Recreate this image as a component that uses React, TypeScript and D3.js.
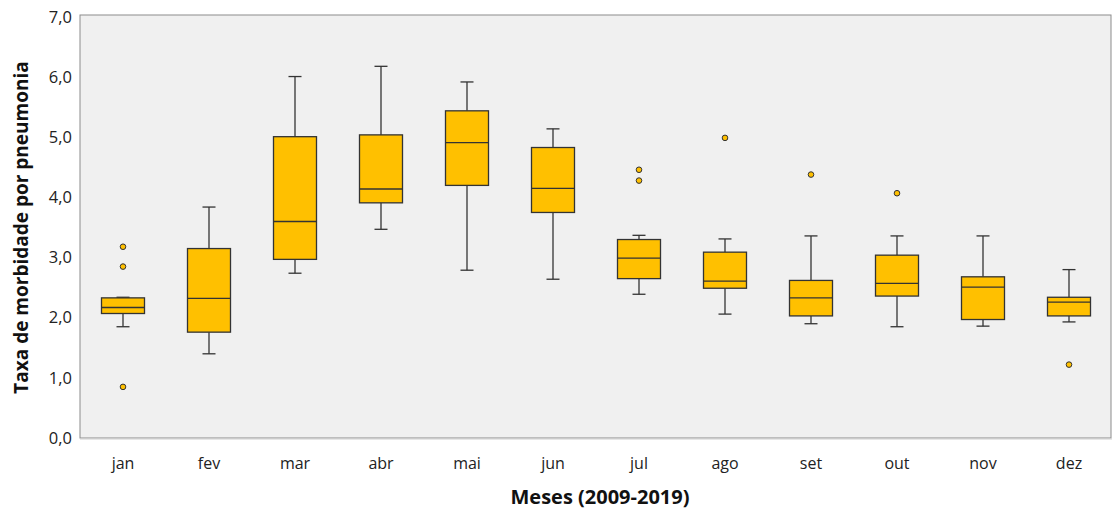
import React from "react"
import { scaleBand, scaleLinear, range } from "d3"

const months = ["jan", "fev", "mar", "abr", "mai", "jun", "jul", "ago", "set", "out", "nov", "dez"]
const whiskerLow = [1.85, 1.4, 2.74, 3.47, 2.79, 2.64, 2.39, 2.06, 1.9, 1.85, 1.86, 1.93]
const q1 = [2.07, 1.76, 2.97, 3.91, 4.2, 3.75, 2.65, 2.49, 2.03, 2.36, 1.97, 2.03]
const median = [2.17, 2.32, 3.6, 4.14, 4.91, 4.15, 2.99, 2.61, 2.33, 2.57, 2.51, 2.26]
const q3 = [2.33, 3.15, 5.01, 5.04, 5.44, 4.83, 3.3, 3.09, 2.62, 3.04, 2.68, 2.34]
const whiskerHigh = [2.34, 3.84, 6.01, 6.18, 5.92, 5.14, 3.37, 3.31, 3.36, 3.36, 3.36, 2.8]
const outliers: number[][] = [
  [3.18, 2.85, 0.85],
  [],
  [],
  [],
  [],
  [],
  [4.46, 4.28],
  [4.99],
  [4.38],
  [4.07],
  [],
  [1.22],
]
const yTicks = [0, 1, 2, 3, 4, 5, 6, 7]

const width = 1113
const height = 511
const margin = { top: 17, right: 1, bottom: 73, left: 80 }
const fontFamily = "'Open Sans', sans-serif"

const App = () => {
  const x = scaleBand<string>()
    .domain(months)
    .range([margin.left, width - margin.right])
  const y = scaleLinear()
    .domain([0, 7])
    .range([height - margin.bottom, margin.top])

  const boxW = x.bandwidth() * 0.5
  const capW = 13
  const stroke = "#333"
  const fill = "#FFC000"

  return (
    <svg
      width={width}
      height={height}
      style={{ position: "absolute", left: 0, top: 0, background: "#fff" }}
    >
      <rect
        x={margin.left}
        y={15}
        width={width - margin.left - margin.right - 1}
        height={y(0) - 15}
        fill="#f0f0f0"
        stroke="#8c8c8c"
        strokeWidth={1}
      />
      <line x1={margin.left} x2={width - margin.right} y1={y(0) + 1} y2={y(0) + 1} stroke="#d0d0d0" />

      {yTicks.map((t) => (
        <text
          key={t}
          x={72}
          y={y(t)}
          dy="0.35em"
          textAnchor="end"
          fontSize={16.5}
          fill="#222"
          fontFamily={fontFamily}
        >
          {t.toFixed(1).replace(".", ",")}
        </text>
      ))}

      {range(months.length).map((i) => {
        const m = months[i]
        const cx = (x(m) ?? 0) + x.bandwidth() / 2
        return (
          <g key={m}>
            <line x1={cx} x2={cx} y1={y(whiskerHigh[i])} y2={y(q3[i])} stroke={stroke} strokeWidth={1.3} />
            <line x1={cx} x2={cx} y1={y(q1[i])} y2={y(whiskerLow[i])} stroke={stroke} strokeWidth={1.3} />
            <line x1={cx - capW / 2} x2={cx + capW / 2} y1={y(whiskerHigh[i])} y2={y(whiskerHigh[i])} stroke={stroke} strokeWidth={1.3} />
            <line x1={cx - capW / 2} x2={cx + capW / 2} y1={y(whiskerLow[i])} y2={y(whiskerLow[i])} stroke={stroke} strokeWidth={1.3} />
            <rect
              x={cx - boxW / 2}
              y={y(q3[i])}
              width={boxW}
              height={y(q1[i]) - y(q3[i])}
              fill={fill}
              stroke={stroke}
              strokeWidth={1.3}
            />
            <line x1={cx - boxW / 2} x2={cx + boxW / 2} y1={y(median[i])} y2={y(median[i])} stroke={stroke} strokeWidth={1.3} />
            {outliers[i].map((o, j) => (
              <circle key={j} cx={cx} cy={y(o)} r={2.8} fill={fill} stroke={stroke} strokeWidth={1} />
            ))}
            <text
              x={cx}
              y={463}
              dy="0.35em"
              textAnchor="middle"
              fontSize={16}
              fill="#222"
              fontFamily={fontFamily}
            >
              {m}
            </text>
          </g>
        )
      })}

      <text
        x={600}
        y={497}
        dy="0.35em"
        textAnchor="middle"
        fontSize={20}
        fontWeight="bold"
        fill="#111"
        fontFamily={fontFamily}
      >
        Meses (2009-2019)
      </text>
      <text
        transform={`translate(21, ${(y(0) + y(7)) / 2}) rotate(-90)`}
        dy="0.35em"
        textAnchor="middle"
        fontSize={19}
        fontWeight="bold"
        fill="#111"
        fontFamily={fontFamily}
      >
        Taxa de morbidade por pneumonia
      </text>
    </svg>
  )
}

export default App
